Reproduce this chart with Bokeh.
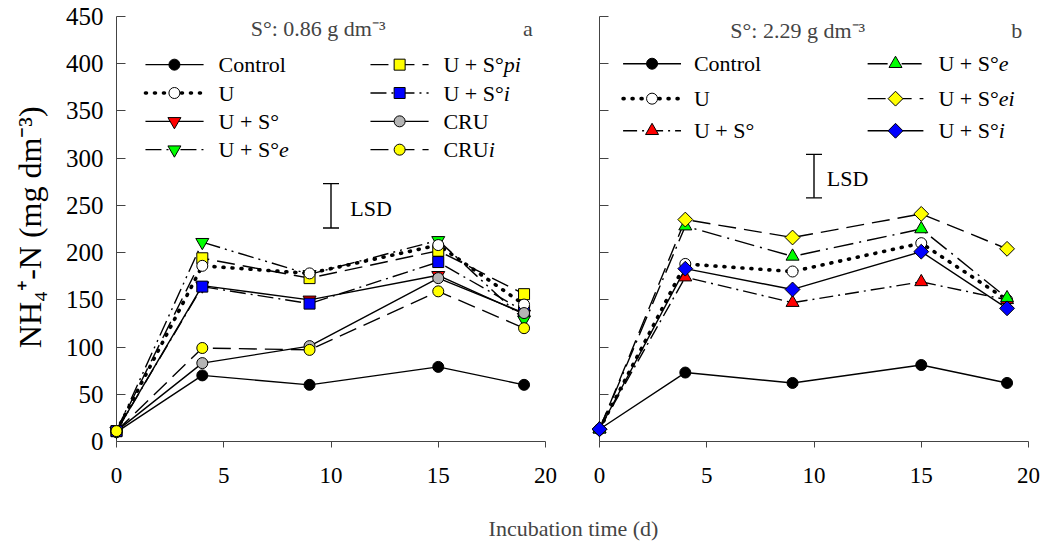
import math
from bokeh.plotting import figure
from bokeh.layouts import row, column
from bokeh.models import Label, Whisker, ColumnDataSource, TeeHead
from bokeh.core.properties import value
from bokeh.embed import file_html
from bokeh.resources import INLINE

# ---------------- data ----------------
days = [0, 4, 9, 15, 19]
x_ticks = [0, 5, 10, 15, 20]
y_ticks = [0, 50, 100, 150, 200, 250, 300, 350, 400, 450]

# panel a  (S°: 0.86 g dm-3)
control_a = [10, 70, 60, 79, 60]
u_a = [11, 186, 178, 208, 145]
us_a = [11, 165, 150, 176, 135]
use_a = [11, 211, 177, 213, 129]
uspi_a = [11, 194, 173, 202, 156]
usi_a = [11, 164, 146, 190, 138]
cru_a = [11, 83, 101, 173, 136]
crui_a = [11, 99, 97, 159, 120]
lsd_a = [226, 273]

# panel b  (S°: 2.29 g dm-3)
control_b = [13, 73, 62, 81, 62]
u_b = [13, 188, 180, 210, 150]
us_b = [13, 174, 147, 169, 150]
use_b = [13, 228, 196, 225, 152]
usei_b = [13, 235, 216, 241, 204]
usi_b = [13, 183, 161, 201, 141]
lsd_b = [258, 304]
lsd_day = 10

FONT = "Liberation Serif"
FS = 22
XTFS = 23
YTFS = 25
YFS = 32
AXIS_COL = "#444444"

# Times-like advance widths (em), used to place italic suffixes
CW = {'U': 0.722, ' ': 0.25, '+': 0.564, 'S': 0.556, '°': 0.4, 'C': 0.667, 'R': 0.667}


def twidth(s, fs=FS):
    return sum(CW.get(c, 0.5) for c in s) * fs


def make_fig(width, left, right, top, bottom, show_labels):
    p = figure(width=width, height=500, x_range=(0, 20), y_range=(0, 450),
               output_backend="svg", toolbar_location=None,
               min_border_left=left, min_border_right=right,
               min_border_top=top, min_border_bottom=bottom)
    p.outline_line_color = None
    p.grid.visible = False
    p.background_fill_color = "white"
    p.border_fill_color = "white"
    for ax in (p.xaxis, p.yaxis):
        ax.axis_line_color = AXIS_COL
        ax.major_tick_line_color = AXIS_COL
        ax.minor_tick_line_color = None
        ax.major_label_text_font = FONT
        ax.major_label_text_color = "black"
    p.xaxis.major_label_text_font_size = f"{XTFS}px"
    p.yaxis.major_label_text_font_size = f"{YTFS}px"
    p.xaxis.ticker = x_ticks
    p.xaxis.major_tick_in = 0
    p.xaxis.major_tick_out = 6
    p.xaxis.major_label_standoff = 20
    p.yaxis.ticker = y_ticks
    p.yaxis.major_tick_in = 9
    p.yaxis.major_tick_out = 0
    p.yaxis.major_label_standoff = 13
    if not show_labels:
        p.yaxis.major_label_text_color = None
    return p


def add_series(p, series):
    for s in series:
        p.line(days, s["y"], line_color="black", line_width=s.get("lw", 1.4),
               line_dash=s["dash"], line_cap=s.get("cap", "butt"))
    for s in series:
        r = p.scatter(days, s["y"], marker=s["marker"], size=s["size"],
                      fill_color=s["fill"], line_color="black", line_width=1,
                      angle=s.get("angle", 0))
        r.level = "overlay"


def add_legend(p, entries, rows_y, cols):
    for i, s in enumerate(entries):
        col = cols[i // len(rows_y)]
        yy = rows_y[i % len(rows_y)]
        x0, xm, x1, xt = col
        p.line([x0, x1], [yy, yy], line_color="black", line_width=s.get("lw", 1.4),
               line_dash=s["dash"], line_cap=s.get("cap", "butt"))
        r = p.scatter([xm], [yy], marker=s["marker"], size=s["size"],
                      fill_color=s["fill"], line_color="black", line_width=1,
                      angle=s.get("angle", 0))
        r.level = "overlay"
        p.text([xt], [yy], text=[s["name"]], text_font=value(FONT),
               text_font_size=f"{FS}px", text_baseline="middle", text_align="left",
               text_color="black")
        if s.get("ital"):
            p.text([xt], [yy], text=[s["ital"]], text_font=value(FONT),
                   text_font_size=f"{FS}px", text_font_style="italic",
                   text_baseline="middle", text_align="left", text_color="black",
                   x_offset=twidth(s["name"]))


def add_lsd(p, lsd, tx, ty):
    src = ColumnDataSource(dict(base=[lsd_day], lower=[lsd[0]], upper=[lsd[1]]))
    w = Whisker(source=src, base="base", lower="lower", upper="upper",
                dimension="height", line_color="black", line_width=1.4,
                upper_head=TeeHead(size=16, line_color="black", line_width=1.4),
                lower_head=TeeHead(size=16, line_color="black", line_width=1.4))
    p.add_layout(w)
    p.add_layout(Label(x=tx, y=ty, text="LSD", text_font=FONT, text_font_size=f"{FS}px",
                       text_baseline="middle", text_align="left", text_color="black"))


DOT = dict(dash="1 8", lw=3.6, cap="round")

# ---------------- y label strip ----------------
py = figure(width=58, height=500, x_range=(0, 58), y_range=(0, 500),
            output_backend="svg", toolbar_location=None,
            x_axis_location=None, y_axis_location=None, min_border=0)
py.outline_line_color = None
py.grid.visible = False
py.text([29], [500 - 248], text=["NH₄⁺-N (mg dm⁻³)"], text_font=value(FONT),
        text_font_size=f"{YFS}px", angle=math.pi / 2, text_align="center",
        text_baseline="middle", text_color="black")

# ---------------- panel a ----------------
pa = make_fig(502, 58, 15, 16, 56, True)
series_a = [
    dict(name="Control", y=control_a, dash="solid", marker="circle", size=11, fill="black"),
    dict(name="U + S°", y=us_a, dash="solid", marker="inverted_triangle", size=13, fill="#ff0000"),
    dict(name="U + S°", ital="e", y=use_a, dash="16 5 2 5 2 5", marker="inverted_triangle", size=13, fill="#00ff00"),
    dict(name="U + S°", ital="pi", y=uspi_a, dash="18 8", marker="square", size=11, fill="#ffff00"),
    dict(name="U + S°", ital="i", y=usi_a, dash="16 5 2 5", marker="square", size=11, fill="#0000ff"),
    dict(name="U", y=u_a, marker="circle", size=11, fill="white", **DOT),
    dict(name="CRU", y=cru_a, dash="solid", marker="circle", size=11, fill="#b4b4b4"),
    dict(name="CRU", ital="i", y=crui_a, dash="18 8", marker="circle", size=11, fill="#ffff00"),
]
add_series(pa, series_a)
leg_a = [series_a[0], series_a[5], series_a[1], series_a[2],
         series_a[3], series_a[4], series_a[6], series_a[7]]
add_legend(pa, leg_a, [399, 369, 339, 309],
           [(1.35, 2.7, 4.06, 4.76), (11.84, 13.2, 14.55, 15.24)])
add_lsd(pa, lsd_a, 10.9, 247)
pa.add_layout(Label(x=9.4, y=437, text="S°: 0.86 g dm⁻³", text_font=FONT,
                    text_font_size=f"{FS}px", text_align="center", text_baseline="middle"))
pa.add_layout(Label(x=19.18, y=437, text="a", text_font=FONT,
                    text_font_size=f"{FS}px", text_align="center", text_baseline="middle"))

# ---------------- panel b ----------------
pb = make_fig(487, 39, 19, 13, 59, False)
series_b = [
    dict(name="Control", y=control_b, dash="solid", marker="circle", size=11, fill="black"),
    dict(name="U", y=u_b, marker="circle", size=11, fill="white", **DOT),
    dict(name="U + S°", y=us_b, dash="14 5 2 5", marker="triangle", size=13, fill="#ff0000"),
    dict(name="U + S°", ital="e", y=use_b, dash="20 6 2 6", marker="triangle", size=13, fill="#00ff00"),
    dict(name="U + S°", ital="ei", y=usei_b, dash="18 8", marker="square", size=10.5, fill="#ffff00", angle=math.pi / 4),
    dict(name="U + S°", ital="i", y=usi_b, dash="solid", marker="square", size=10.5, fill="#0000ff", angle=math.pi / 4),
]
add_series(pb, series_b)
add_legend(pb, series_b, [400, 363, 329],
           [(1.1, 2.45, 3.8, 4.4), (12.5, 13.8, 15.1, 15.8)])
add_lsd(pb, lsd_b, 10.6, 279)
pb.add_layout(Label(x=9.24, y=435, text="S°: 2.29 g dm⁻³", text_font=FONT,
                    text_font_size=f"{FS}px", text_align="center", text_baseline="middle"))
pb.add_layout(Label(x=19.45, y=435, text="b", text_font=FONT,
                    text_font_size=f"{FS}px", text_align="center", text_baseline="middle"))

# ---------------- x label strip ----------------
pl = figure(width=1047, height=42, x_range=(0, 1047), y_range=(0, 42),
            output_backend="svg", toolbar_location=None,
            x_axis_location=None, y_axis_location=None, min_border=0)
pl.outline_line_color = None
pl.grid.visible = False
pl.add_layout(Label(x=573, y=14, text="Incubation time (d)", text_font=FONT,
                    text_font_size=f"{FS}px", text_align="center", text_baseline="middle"))

layout = column(row(py, pa, pb, spacing=0), pl, spacing=0)
open("out.html", "w").write(file_html(layout, INLINE))
